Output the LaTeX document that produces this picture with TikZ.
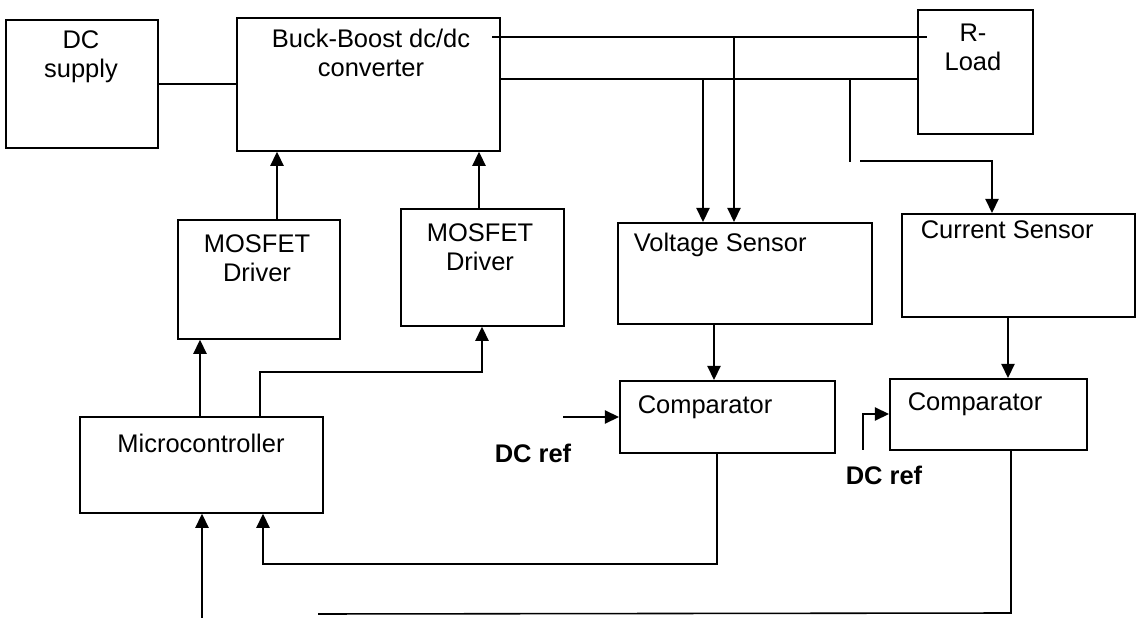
\documentclass[tikz,border=0pt]{standalone}
\usepackage{fontspec}
\setmainfont{Liberation Sans}
\usepackage{tikz}
\usetikzlibrary{arrows.meta,positioning,calc}

\begin{document}
\begin{tikzpicture}[x=0.02cm,y=-0.02cm,line width=0.9pt,
  blk/.style={rectangle,draw,line width=1pt,anchor=north west,inner sep=0pt},
  txt/.style={font=\fontsize{14.5}{16.5}\selectfont,align=center,inner sep=0pt},
  reftxt/.style={font=\fontsize{14.5}{16.5}\selectfont\bfseries,inner sep=0pt},
  arr/.style={-{Triangle[length=8pt,width=7.5pt]}}]

  \useasboundingbox (0,0) rectangle (1137,618);

  \node[blk,minimum width=3.04cm,minimum height=2.56cm] (dcsup) at (5,19) {};
  \node[blk,minimum width=5.26cm,minimum height=2.66cm] (conv) at (236,17) {};
  \node[blk,minimum width=2.30cm,minimum height=2.48cm] (rload) at (917,9) {};
  \node[blk,minimum width=3.24cm,minimum height=2.38cm] (drvA) at (177,219) {};
  \node[blk,minimum width=3.26cm,minimum height=2.34cm] (drvB) at (400,208) {};
  \node[blk,minimum width=5.08cm,minimum height=2.02cm] (vsens) at (617,222) {};
  \node[blk,minimum width=4.66cm,minimum height=2.06cm] (csens) at (901,213) {};
  \node[blk,minimum width=4.30cm,minimum height=1.44cm] (compA) at (619,380) {};
  \node[blk,minimum width=3.94cm,minimum height=1.42cm] (compB) at (889,378) {};
  \node[blk,minimum width=4.86cm,minimum height=1.92cm] (mcu) at (79,416) {};

  \node[txt] (dcsupT) at (81,57) {DC\\supply};
  \node[txt] (convT) at (371,53) {Buck-Boost dc/dc\\converter};
  \node[txt] (rloadT) at (973,47) {R-\\Load};
  \node[txt] (drvAT) at (257,258) {MOSFET\\Driver};
  \node[txt] (drvBT) at (480,247) {MOSFET\\Driver};
  \node[txt,anchor=west] (vsensT) at (633,245) {Voltage Sensor};
  \node[txt,anchor=west] (csensT) at (920,230) {Current Sensor};
  \node[txt,anchor=west] (compAT) at (637,407) {Comparator};
  \node[txt,anchor=west] (compBT) at (907,404) {Comparator};
  \node[txt] (mcuT) at (201,443) {Microcontroller};
  \node[reftxt,anchor=east] (refAT) at (572,453) {DC ref};
  \node[reftxt,anchor=west] (refBT) at (845,475) {DC ref};

  \coordinate (busBeg) at (492,37);
  \coordinate (busEnd) at (927,37);
  \coordinate (tapV1) at (734,37);
  \coordinate (tapV2) at (703,79);
  \coordinate (tapC) at (850,79);
  \coordinate (tapCend) at (850,162);
  \coordinate (tapCbeg) at (860,161);
  \coordinate (refA) at (563,417);
  \coordinate (refB) at (863,450);
  \coordinate (fbEnd) at (318,614);
  \coordinate (mcuIn) at (202,618);

  \draw (dcsup.east) -- (dcsup.east -| conv.west);
  \draw (busBeg) -- (busEnd);
  \draw (conv.east |- 0,79) -- (rload.west |- 0,79);

  \draw[arr] (tapV1) -- (tapV1 |- vsens.north);
  \draw[arr] (tapV2) -- (tapV2 |- vsens.north);
  \draw (tapC) -- (tapCend);
  \draw[arr] (tapCbeg) -- (992,161) -- (csens.north -| 992,0);

  \draw[arr] (drvA.north -| 277,0) -- (conv.south -| 277,0);
  \draw[arr] (drvB.north -| 479,0) -- (conv.south -| 479,0);
  \draw[arr] (mcu.north -| 200,0) -- (drvA.south -| 200,0);
  \draw[arr] (mcu.north -| 260,0) -- (260,372) -- (482,372) -- (drvB.south -| 482,0);

  \draw[arr] (vsens.south -| 714,0) -- (compA.north -| 714,0);
  \draw[arr] (csens.south -| 1008,0) -- (compB.north -| 1008,0);
  \draw[arr] (refA) -- (compA.west |- refA);
  \draw[arr] (refB) |- (compB.west |- 0,414);

  \draw[arr] (compA.south -| 717,0) -- (717,564) -- (263,564) -- (mcu.south -| 263,0);
  \draw (compB.south -| 1011,0) -- (1011,613) -- (fbEnd);
  \draw[arr] (mcuIn) -- (mcu.south -| 202,0);
\end{tikzpicture}
\end{document}
